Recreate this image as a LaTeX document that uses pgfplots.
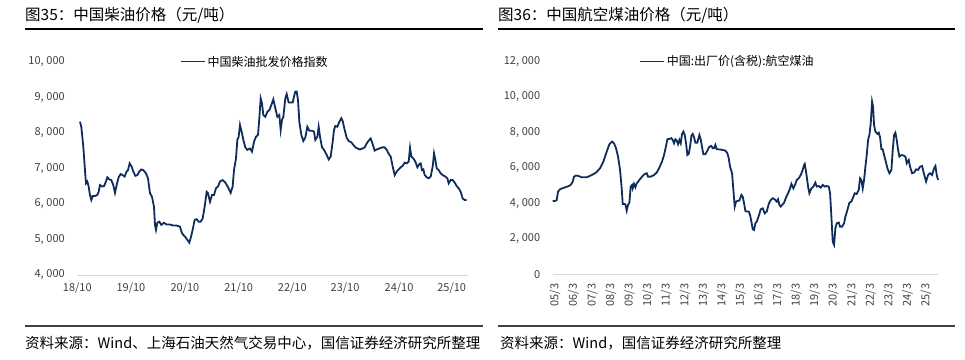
\documentclass[border=0pt]{standalone}
\usepackage{pgfplots}
\pgfplotsset{compat=1.18}
\usepackage{fontspec}
\setmainfont{Noto Sans CJK SC}
\definecolor{navy}{HTML}{0F2C5C}
\definecolor{tickgray}{HTML}{404040}
\definecolor{axgray}{HTML}{D9D9D9}
\definecolor{rulegray}{HTML}{404040}
\pgfplotsset{
  panel/.style={
    scale only axis,
    axis x line*=bottom, axis y line*=left,
    y axis line style={draw=none},
    x axis line style={axgray, line width=0.9pt},
    major tick length=0pt,
    tick style={draw=none},
    scaled y ticks=false,
    /pgf/number format/.cd, assume math mode=true, 1000 sep={,\hspace{0.25em}},
    /pgfplots/.cd,
    tick label style={font=\fontsize{11}{13}\selectfont, text=tickgray},
    yticklabel style={xshift=-9pt},
    legend style={draw=none, fill=none, font=\fontsize{12}{14}\selectfont, anchor=center, inner sep=0pt},
    legend image code/.code={\draw[#1, line width=1.6pt] (0pt,0pt) -- (24pt,0pt);},
    clip=false,
  }
}
\begin{document}
\begin{tikzpicture}
\path (0pt,0pt) rectangle (965pt,359pt);
% titles
\node[anchor=west, inner sep=0pt, font=\fontsize{15.5}{18}\selectfont] at (25pt,344pt) {图35：中国柴油价格（元/吨）};
\node[anchor=west, inner sep=0pt, font=\fontsize{15.5}{18}\selectfont] at (498pt,344pt) {图36：中国航空煤油价格（元/吨）};
\draw[line width=1.3pt, black] (25pt,330pt) -- (483pt,330pt);
\draw[line width=1.3pt, black] (498pt,330pt) -- (955pt,330pt);
\draw[line width=1.3pt, rulegray] (25pt,33pt) -- (483pt,33pt);
\draw[line width=1.3pt, rulegray] (498pt,33pt) -- (955pt,33pt);
\node[anchor=west, inner sep=0pt, font=\fontsize{14.5}{17}\selectfont] at (25pt,16pt) {资料来源：Wind、上海石油天然气交易中心，国信证券经济研究所整理};
\node[anchor=west, inner sep=0pt, font=\fontsize{14.5}{17}\selectfont] at (500pt,16pt) {资料来源：Wind，国信证券经济研究所整理};

% left chart
\begin{axis}[panel,
  at={(77.3pt,84pt)}, anchor=south west,
  width=390.4pt, height=213.3pt,
  xmin=232, xmax=1403, ymin=4000, ymax=10000,
  ytick={4000,5000,6000,7000,8000,9000,10000},
  xtick={232,393,555,716,877,1035,1197,1355},
  xticklabels={18/10,19/10,20/10,21/10,22/10,23/10,24/10,25/10},
  xticklabel style={yshift=-4pt},
  legend style={at={(0.455,1.0)}},
]
\addplot[navy, line width=1.8pt] coordinates {
(240,8313)(244,8170)(250,7610)(255,6950)(258,6580)(262,6630)(266,6490)(270,6250)(274,6110)(278,6220)
(285,6220)(292,6250)(296,6340)(300,6530)(306,6490)(312,6500)(318,6630)(322,6750)(328,6690)(334,6670)
(340,6530)(345,6310)(350,6530)(356,6750)(362,6840)(368,6810)(374,6770)(380,6910)(384,6950)(389,7140)
(395,7050)(400,6910)(406,6790)(412,6810)(418,6910)(424,6970)(430,6950)(438,6860)(444,6720)(450,6300)
(456,6200)(462,5920)(465,5410)(468,5270)(472,5470)(478,5500)(484,5410)(492,5470)(500,5420)(510,5420)
(520,5390)(530,5390)(540,5360)(546,5170)(555,5080)(562,4990)(568,4910)(572,5040)(578,5270)(584,5550)
(590,5570)(596,5500)(602,5500)(608,5590)(614,5920)(620,6340)(624,6300)(630,6060)(636,6250)(642,6250)
(648,6440)(654,6490)(660,6630)(668,6670)(676,6600)(684,6470)(692,6310)(698,6490)(702,6950)(708,7280)
(712,7800)(716,7890)(720,8220)(726,7990)(730,7800)(736,7590)(742,7520)(750,7560)(756,7470)(762,7750)
(768,7890)(774,7940)(778,8410)(782,8970)(786,8830)(790,8500)(796,8450)(802,8590)(808,8640)(814,8780)
(820,8940)(826,8690)(832,8450)(838,8500)(842,8080)(846,8360)(850,8450)(856,8970)(860,9090)(866,8850)
(872,8850)(878,8850)(882,9020)(886,9160)(890,9160)(894,8920)(898,8310)(904,7940)(910,7770)(916,7870)
(922,8170)(928,8060)(936,8060)(942,8030)(946,7800)(952,7890)(956,8170)(960,7890)(966,7590)(972,7520)
(980,7380)(986,7250)(992,7330)(998,7750)(1002,8080)(1006,8190)(1012,8170)(1018,8310)(1024,8410)(1028,8330)
(1034,8080)(1040,7860)(1046,7770)(1054,7730)(1060,7660)(1066,7590)(1072,7560)(1080,7530)(1088,7560)(1094,7590)
(1100,7700)(1106,7780)(1112,7840)(1118,7680)(1124,7500)(1130,7530)(1138,7560)(1146,7590)(1154,7590)(1160,7520)
(1166,7410)(1172,7330)(1178,7050)(1184,6810)(1190,6910)(1196,6970)(1202,7030)(1208,7070)(1214,7160)(1220,7140)
(1226,7190)(1230,7580)(1234,7330)(1240,7280)(1246,7190)(1252,7030)(1258,7120)(1262,7140)(1266,6950)(1270,6970)
(1274,6810)(1280,6750)(1286,6720)(1292,6770)(1298,7050)(1302,7420)(1306,7240)(1310,7000)(1316,6950)(1322,6860)
(1328,6810)(1336,6770)(1342,6720)(1346,6580)(1352,6670)(1358,6670)(1364,6600)(1370,6500)(1376,6440)(1382,6340)
(1388,6150)(1394,6110)(1400,6110)
};
\addlegendentry{中国柴油批发价格指数}
\end{axis}

% right chart
\begin{axis}[panel,
  at={(552.7pt,84.7pt)}, anchor=south west,
  width=385.7pt, height=212.7pt,
  xmin=188, xmax=1345, ymin=0, ymax=12000,
  ytick={0,2000,4000,6000,8000,10000,12000},
  xtick={195,250.65,306.3,361.95,417.6,473.25,528.9,584.55,640.2,695.85,751.5,807.15,862.8,918.45,974.1,1029.75,1085.4,1141.05,1196.7,1252.35,1308},
  xticklabels={05/3,06/3,07/3,08/3,09/3,10/3,11/3,12/3,13/3,14/3,15/3,16/3,17/3,18/3,19/3,20/3,21/3,22/3,23/3,24/3,25/3},
  xticklabel style={rotate=90, anchor=east, xshift=-6pt},
  legend style={at={(0.453,1.0)}},
]
\addplot[navy, line width=1.8pt] coordinates {
(188,4140)(195,4140)(200,4190)(204,4660)(210,4800)(220,4870)(232,4950)(242,5040)(248,5230)(252,5510)
(258,5570)(265,5550)(275,5470)(290,5470)(305,5600)(318,5740)(330,5980)(340,6360)(350,6920)(358,7340)
(366,7490)(372,7390)(378,7110)(384,6640)(390,5890)(395,4850)(398,3970)(402,3970)(406,3950)(410,3590)
(414,3910)(418,4040)(422,4950)(426,5040)(428,4850)(432,5100)(436,4910)(440,5130)(448,5320)(456,5510)
(464,5660)(470,5700)(474,5510)(482,5510)(492,5600)(500,5740)(508,6020)(516,6360)(522,6730)(528,7240)
(532,7620)(538,7640)(544,7680)(548,7580)(552,7390)(556,7620)(560,7550)(564,7340)(568,7580)(572,7390)
(576,7920)(580,8050)(584,7860)(588,7390)(592,6730)(596,6790)(600,7200)(604,7810)(608,7920)(612,7730)
(616,7430)(622,7430)(628,7860)(632,7620)(636,7170)(640,6770)(646,6770)(652,6980)(658,7200)(664,7240)
(668,7110)(672,7110)(676,7300)(680,7050)(686,7050)(696,7020)(706,6980)(712,6830)(716,6550)(720,6070)
(726,5700)(730,4760)(734,3820)(738,4100)(742,4140)(748,4160)(754,4480)(758,4380)(762,4010)(766,3570)
(770,3540)(776,3540)(780,3350)(784,2970)(788,2540)(792,2500)(796,2880)(800,2970)(806,3290)(812,3670)
(818,3720)(824,3440)(830,3540)(836,3970)(842,4190)(848,4290)(854,4230)(860,4100)(864,4230)(868,3910)
(872,3820)(876,3910)(882,4040)(888,4340)(894,4570)(900,4850)(904,5100)(910,4850)(916,5100)(920,5320)
(926,5420)(932,5600)(938,5890)(942,6170)(944,6230)(948,5790)(954,4950)(958,4570)(964,4850)(970,4950)
(976,5170)(980,4950)(986,4980)(992,4890)(998,5040)(1004,4950)(1010,4980)(1016,4950)(1020,4570)(1024,3250)
(1028,1840)(1032,1660)(1036,2600)(1040,2880)(1046,2920)(1050,2690)(1056,2690)(1062,2880)(1066,3250)(1072,3630)
(1078,4040)(1084,4100)(1090,4380)(1094,4570)(1100,4530)(1106,4760)(1110,5420)(1114,5320)(1118,4850)(1122,5320)
(1126,6070)(1130,6730)(1134,7580)(1138,7860)(1142,8520)(1146,9740)(1149,9460)(1152,8420)(1156,8050)(1162,7920)
(1166,7990)(1170,7730)(1174,7050)(1178,7050)(1182,6730)(1186,6450)(1192,5980)(1198,5700)(1204,5890)(1208,7020)
(1212,7860)(1216,7990)(1220,7580)(1224,7020)(1228,6640)(1234,6730)(1240,6700)(1246,6640)(1250,6260)(1256,6450)
(1260,6070)(1266,5700)(1272,5740)(1278,5920)(1284,5890)(1290,6070)(1296,6110)(1300,5790)(1304,5510)(1308,5230)
(1314,5600)(1320,5700)(1326,5600)(1332,5980)(1336,6110)(1340,5600)(1344,5320)
};
\addlegendentry{中国:出厂价(含税):航空煤油}
\end{axis}
\end{tikzpicture}
\end{document}
